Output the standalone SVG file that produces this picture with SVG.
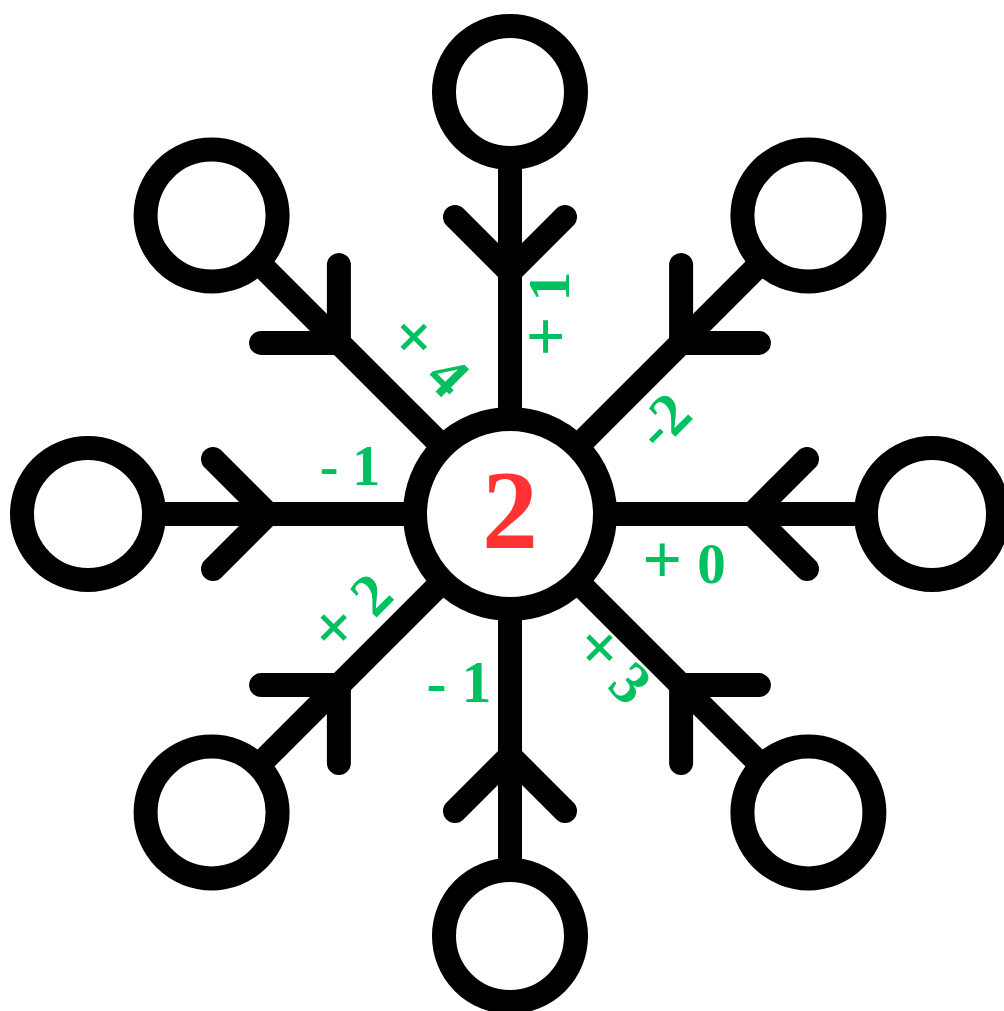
<svg xmlns="http://www.w3.org/2000/svg" width="1004" height="1011" viewBox="0 0 1004 1011">
<style>
.stem{stroke:#000;stroke-width:24;fill:none}
.chev{stroke:#000;stroke-width:24;fill:none;stroke-linecap:round;stroke-linejoin:miter}
.node{fill:#fff;stroke:#000;stroke-width:24}
.lbl{font-family:"Liberation Serif","Times New Roman",serif;font-weight:bold;font-size:60px;fill:#00C060;text-anchor:middle}
.op{font-size:70px}
.num{font-family:"Liberation Serif","Times New Roman",serif;font-weight:bold;font-size:112px;fill:#FF3333;text-anchor:middle}
</style>
<defs>
<g id="spoke">
<line class="stem" x1="510" y1="419" x2="510" y2="100"/>
<polyline class="chev" points="455,217 510,272 565,217"/>
</g>
</defs>
<rect width="1004" height="1011" fill="#fff"/>
<g id="connectors">
<use href="#spoke"/>
<use href="#spoke" transform="rotate(45 510 514)"/>
<use href="#spoke" transform="rotate(90 510 514)"/>
<use href="#spoke" transform="rotate(135 510 514)"/>
<use href="#spoke" transform="rotate(180 510 514)"/>
<use href="#spoke" transform="rotate(225 510 514)"/>
<use href="#spoke" transform="rotate(270 510 514)"/>
<use href="#spoke" transform="rotate(315 510 514)"/>
</g>
<g id="node-n"><circle class="node" cx="510" cy="92" r="66"/></g>
<g id="node-ne"><circle class="node" cx="808.4" cy="215.6" r="66"/></g>
<g id="node-e"><circle class="node" cx="932" cy="514" r="66"/></g>
<g id="node-se"><circle class="node" cx="808.4" cy="812.4" r="66"/></g>
<g id="node-s"><circle class="node" cx="510" cy="936" r="66"/></g>
<g id="node-sw"><circle class="node" cx="211.6" cy="812.4" r="66"/></g>
<g id="node-w"><circle class="node" cx="88" cy="514" r="66"/></g>
<g id="node-nw"><circle class="node" cx="211.6" cy="215.6" r="66"/></g>
<g id="node-center"><circle class="node" cx="510" cy="514" r="95"/><text class="num" x="510" y="548">2</text></g>
<g id="labels">
<text class="lbl" transform="translate(569 314) rotate(-90)"><tspan class="op">+</tspan> 1</text>
<text class="lbl" transform="translate(414 370) rotate(45)" word-spacing="2"><tspan class="op">+</tspan> 4</text>
<text class="lbl" transform="translate(677 435) rotate(-45)">-2</text>
<text class="lbl" x="350" y="485" style="font-size:56px">- 1</text>
<text class="lbl" x="684" y="583" style="font-size:57px" word-spacing="1"><tspan class="op">+</tspan> 0</text>
<text class="lbl" transform="translate(366 628) rotate(-45)"><tspan class="op">+</tspan> 2</text>
<text class="lbl" x="459" y="702">- 1</text>
<text class="lbl" transform="translate(598 679) rotate(45)" word-spacing="-3"><tspan class="op">+</tspan> 3</text>
</g>
</svg>
